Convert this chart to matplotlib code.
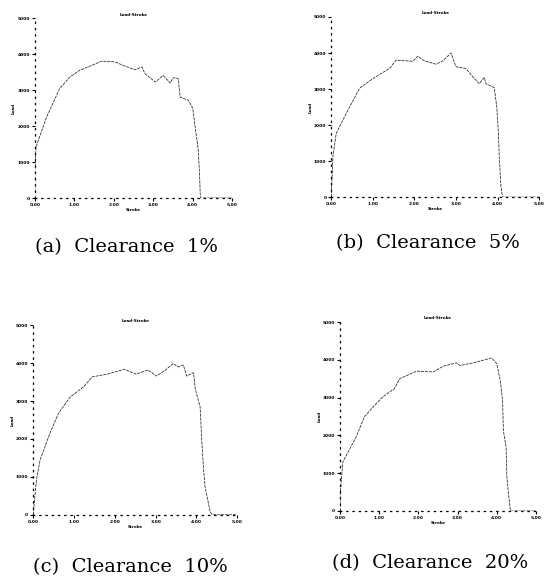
import numpy as np
import matplotlib.pyplot as plt

# stroke / load readings per clearance (in tick units)
x_a = [0, 0.0, 0.03, 0.3, 0.63, 0.89, 1.14, 1.35, 1.69, 2.03, 2.24, 2.54, 2.71, 2.79, 3.05, 3.25, 3.43, 3.5, 3.63, 3.68, 3.89, 4.0, 4.06, 4.14, 4.17, 4.19, 4.2, 5.0]
y_a = [0, 0.78, 1.42, 2.26, 3.05, 3.37, 3.56, 3.65, 3.81, 3.79, 3.69, 3.57, 3.65, 3.46, 3.23, 3.41, 3.2, 3.35, 3.33, 2.81, 2.72, 2.5, 1.98, 1.33, 0.69, 0.08, 0, 0]

x_b = [0, 0.04, 0.12, 0.36, 0.68, 1.0, 1.4, 1.56, 1.96, 2.08, 2.24, 2.52, 2.68, 2.88, 3.0, 3.24, 3.4, 3.56, 3.68, 3.72, 3.92, 3.98, 4.02, 4.04, 4.08, 4.12, 5.0]
y_b = [0, 1.13, 1.77, 2.32, 3.02, 3.29, 3.57, 3.8, 3.77, 3.91, 3.78, 3.69, 3.78, 4.0, 3.62, 3.57, 3.34, 3.15, 3.32, 3.15, 3.04, 2.51, 1.77, 1.13, 0.3, 0, 0]

x_c = [0, 0.08, 0.17, 0.41, 0.62, 0.91, 1.24, 1.45, 1.82, 2.23, 2.52, 2.81, 3.02, 3.22, 3.43, 3.55, 3.68, 3.76, 3.93, 3.97, 4.09, 4.13, 4.17, 4.21, 4.34, 4.4, 5.0]
y_c = [0, 0.92, 1.45, 2.15, 2.68, 3.11, 3.38, 3.64, 3.71, 3.84, 3.71, 3.82, 3.66, 3.8, 3.99, 3.9, 3.95, 3.66, 3.75, 3.33, 2.85, 1.97, 1.27, 0.75, 0.06, 0, 0]

x_d = [0, 0.0, 0.03, 0.07, 0.41, 0.62, 0.84, 1.09, 1.39, 1.52, 1.95, 2.16, 2.38, 2.63, 2.97, 3.06, 3.4, 3.87, 4.0, 4.09, 4.15, 4.17, 4.24, 4.26, 4.3, 4.35, 5.0]
y_d = [0, 0.37, 0.81, 1.3, 1.96, 2.49, 2.75, 3.02, 3.24, 3.5, 3.7, 3.69, 3.68, 3.83, 3.92, 3.85, 3.92, 4.05, 3.9, 3.46, 2.93, 2.13, 1.69, 0.9, 0.46, 0, 0]

xticks = [0, 1, 2, 3, 4, 5]
xtick_labels = ["0.00", "1.00", "2.00", "3.00", "4.00", "5.00"]
yticks = [0, 1, 2, 3, 4, 5]
ytick_labels = ["0", "1000", "2000", "3000", "4000", "5000"]

captions = ["(a)  Clearance  1%", "(b)  Clearance  5%", "(c)  Clearance  10%", "(d)  Clearance  20%"]
series = [(x_a, y_a), (x_b, y_b), (x_c, y_c), (x_d, y_d)]

# axes boxes [left, bottom, width, height] in figure fractions
boxes = [[0.063, 0.6615, 0.357, 0.307],
         [0.599, 0.663, 0.376, 0.308],
         [0.060, 0.120, 0.369, 0.324],
         [0.615, 0.1265, 0.354, 0.323]]
cap_pos = [(0.228, 0.578), (0.773, 0.585), (0.236, 0.031), (0.777, 0.038)]

fig = plt.figure(figsize=(5.53, 5.85), dpi=100)

for i in range(4):
    ax = fig.add_axes(boxes[i])
    xs, ys = series[i]
    ax.plot(xs, ys, color="#222222", lw=0.55, ls=(0, (4, 1.2)))
    ax.set_xlim(0, 5)
    ax.set_ylim(0, 5)
    ax.set_xticks(xticks)
    ax.set_xticklabels(xtick_labels, fontsize=3.2, fontweight="bold")
    ax.set_yticks(yticks)
    ax.set_yticklabels(ytick_labels, fontsize=3.2, fontweight="bold")
    ax.tick_params(length=2.5, width=0.8, pad=1)
    for s in ["top", "right"]:
        ax.spines[s].set_visible(False)
    for s in ["left", "bottom"]:
        ax.spines[s].set_linestyle((0, (1, 4)))
        ax.spines[s].set_linewidth(0.9)
    ax.set_title("Load-Stroke", fontsize=3, fontweight="bold", pad=2)
    ax.set_xlabel("Stroke", fontsize=3, fontweight="bold", labelpad=1)
    ax.set_ylabel("Load", fontsize=3, fontweight="bold", labelpad=1)
    ax.set_facecolor("none")
    fig.text(cap_pos[i][0], cap_pos[i][1], captions[i], ha="center", va="center",
             fontsize=14, family="DejaVu Serif")

fig.savefig("out.png", dpi=100)
